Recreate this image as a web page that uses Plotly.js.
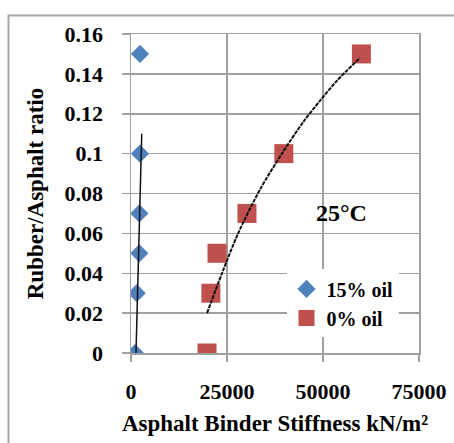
<!DOCTYPE html>
<html>
<head>
<meta charset="utf-8">
<script src="https://cdn.plot.ly/plotly-3.0.1.min.js"></script>
<style>html,body{margin:0;padding:0;background:#fff;}#chart{width:454px;height:443px;}</style>
</head>
<body>
<div id="chart"></div>
<script>
// Data
var ratio = [0, 0.03, 0.05, 0.07, 0.1, 0.15];
var stiffness15 = [1040, 1480, 2160, 2160, 2340, 2340];
var stiffness0 = [19800, 20800, 22400, 30200, 39800, 60000];

// Trendlines
var trend15X = [1300, 2800];
var trend15Y = [0, 0.11];
var trend0X = [19800, 23700, 27900, 33600, 39300, 44900, 49200, 53600, 59600];
var trend0Y = [0.02, 0.04, 0.06, 0.082, 0.10, 0.116, 0.1265, 0.1365, 0.148];

var xTickVals = [0, 25000, 50000, 75000];
var xTickText = ['0', '25000', '50000', '75000'];
var yTickVals = [0, 0.02, 0.04, 0.06, 0.08, 0.1, 0.12, 0.14, 0.16];
var yTickText = ['0', '0.02', '0.04', '0.06', '0.08', '0.1', '0.12', '0.14', '0.16'];

var serif = '"Liberation Serif"';
var grid = '#a0a0a0';

var traces = [
  {x: stiffness15, y: ratio, mode: 'markers', name: '15% oil',
   marker: {symbol: 'diamond', size: 14, color: '#4F81BD'}},
  {x: stiffness0, y: ratio, mode: 'markers', name: '0% oil',
   marker: {symbol: 'square', size: 19, color: '#C0504D'}},
  {x: trend15X, y: trend15Y, mode: 'lines', line: {color: '#111', width: 1.5}, showlegend: false, hoverinfo: 'skip'},
  {x: trend0X, y: trend0Y, mode: 'lines', line: {color: '#111', width: 2, dash: '4px,1px', shape: 'spline', smoothing: 0.8}, showlegend: false, hoverinfo: 'skip'}
];

var layout = {
  width: 454, height: 443,
  margin: {l: 131, r: 35, t: 34, b: 90},
  paper_bgcolor: '#fff', plot_bgcolor: '#fff',
  font: {family: serif, color: '#000', size: 21, weight: 'bold'},
  showlegend: true,
  legend: {x: 0.54, y: 0.262, xanchor: 'left', yanchor: 'top', bgcolor: '#fff',
    font: {family: serif, size: 20, weight: 'bold', color: '#000'}, tracegroupgap: 0},
  xaxis: {
    range: [0, 75000], tickvals: xTickVals, ticktext: xTickText,
    showgrid: true, gridcolor: grid, gridwidth: 1.5,
    showline: true, linecolor: grid, linewidth: 1.5, mirror: true, zeroline: false,
    ticks: 'outside', ticklen: 7, tickcolor: grid, tickwidth: 1.5,
    ticklabelstandoff: 11,
    tickfont: {family: serif, size: 22, weight: 'bold', color: '#000'},
    title: {text: 'Asphalt Binder Stiffness kN/m²', font: {family: serif, size: 23, weight: 'bold', color: '#000'}, standoff: 12}
  },
  yaxis: {
    range: [0, 0.16], tickvals: yTickVals, ticktext: yTickText,
    showgrid: true, gridcolor: grid, gridwidth: 1.5,
    showline: true, linecolor: grid, linewidth: 1.5, mirror: true, zeroline: false,
    ticks: 'outside', ticklen: 8, tickcolor: grid, tickwidth: 1.5,
    ticklabelstandoff: 14,
    tickfont: {family: serif, size: 22, weight: 'bold', color: '#000'},
    title: {text: 'Rubber/Asphalt ratio', font: {family: serif, size: 23, weight: 'bold', color: '#000'}, standoff: 14}
  },
  annotations: [{
    x: 54700, y: 0.0702, xref: 'x', yref: 'y', text: '25°C', showarrow: false,
    font: {family: serif, size: 24, weight: 'bold', color: '#000'}
  }],
  shapes: [{
    type: 'path', xref: 'paper', yref: 'paper',
    path: 'M -0.4253 -0.35 L -0.4253 1.058 L 1.2 1.058',
    line: {color: '#a6a6a6', width: 2}
  }]
};

Plotly.newPlot('chart', traces, layout, {staticPlot: true, displayModeBar: false});
</script>
</body>
</html>
